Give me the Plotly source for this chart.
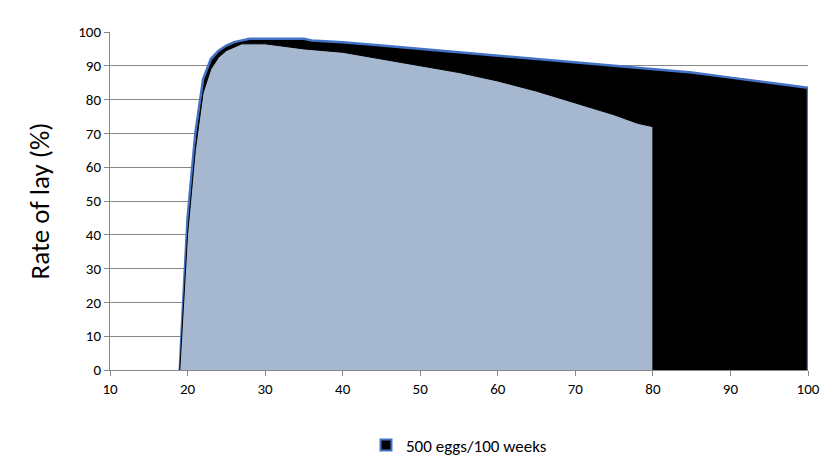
import plotly.graph_objects as go

# outer curve: 500 eggs / 100 weeks
weeks_outer = [19, 19.2, 20, 21, 22, 23, 24, 25, 26, 27, 28, 30, 35, 36, 40, 45, 50, 55, 60, 65, 70, 75, 80, 85, 90, 95, 100, 100]
lay_outer = [0, 10, 45, 70, 86, 92, 94.5, 96, 97, 97.5, 98, 98, 98, 97.5, 97, 96, 95, 94, 93, 92, 91, 90, 89, 88, 86.5, 85, 83.5, 0]

# inner curve: to 80 weeks
weeks_inner = [19, 19.2, 20, 21, 22, 23, 24, 25, 26, 27, 30, 35, 40, 45, 50, 55, 60, 65, 70, 75, 78, 80, 80]
lay_inner = [0, 8, 40, 65, 82, 89, 92.5, 94.5, 95.5, 96.5, 96.5, 95, 94, 92, 90, 88, 85.5, 82.5, 79, 75.5, 73, 72, 0]

fig = go.Figure()
fig.add_trace(go.Scatter(x=weeks_outer, y=lay_outer, fill="tozeroy", fillcolor="black",
                         mode="lines", line=dict(color="#4472C4", width=2.5), showlegend=False))
fig.add_trace(go.Scatter(x=weeks_inner, y=lay_inner, fill="tozeroy", fillcolor="#A6B8CF",
                         mode="lines", line=dict(color="black", width=1), showlegend=False))
fig.add_trace(go.Scatter(x=[None], y=[None], mode="markers", name="500 eggs/100 weeks",
                         marker=dict(symbol="square", size=11, color="black",
                                     line=dict(color="#4472C4", width=2))))

fig.update_layout(
    width=833, height=467, plot_bgcolor="white", paper_bgcolor="white",
    margin=dict(l=102, r=33, t=24, b=90),
    font=dict(family="Carlito, Calibri, Liberation Sans, sans-serif", size=15, color="black"),
    legend=dict(orientation="h", x=0.5, xanchor="center", y=-0.17, yanchor="top",
                font=dict(size=17)),
    xaxis=dict(range=[10, 100], dtick=10, showgrid=False, showline=True, linecolor="#868686",
               ticks="outside", tickcolor="#868686", ticklen=5, zeroline=False),
    yaxis=dict(range=[0, 100], dtick=10, showgrid=True, gridcolor="#868686", gridwidth=1,
               showline=True, linecolor="#868686", ticks="outside", tickcolor="#868686",
               ticklen=5, zeroline=False,
               title=dict(text="Rate of lay (%)", font=dict(size=27), standoff=20)),
)
fig.write_html("out.html")
